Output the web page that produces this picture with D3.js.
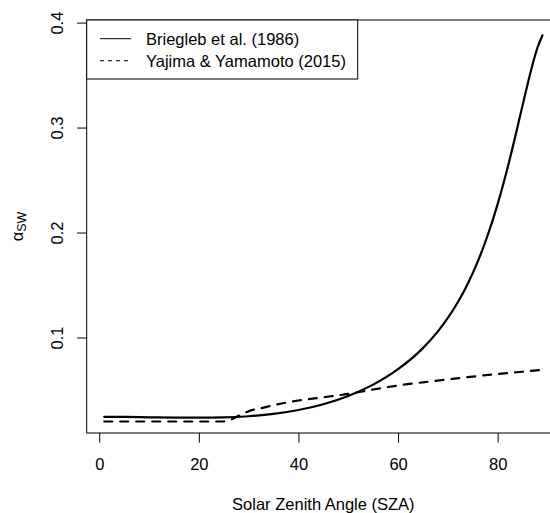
<!doctype html>
<html lang="en">
    <head>
        <meta charset="utf-8">
        <title>Albedo vs solar zenith angle</title>
        <script src="https://cdn.jsdelivr.net/npm/d3@7"></script>
        <style>
            body { margin: 0; background: #fff; }
            svg { display: block; font-family: "Liberation Sans", Arial, Helvetica, sans-serif; }
        </style>
    </head>
    <body>

        <div id="chart"></div>

        <script type="text/javascript">

            // values
            var sza = [1, 5, 10, 15, 20, 25, 30, 35, 40, 45, 50, 55, 60, 65, 68, 70, 72, 74, 76, 78, 80, 81, 82, 83, 84, 85, 86, 87, 88, 89];
            var briegleb = [0.0244, 0.0243, 0.0240, 0.0237, 0.0236, 0.0239, 0.0250, 0.0272, 0.0309, 0.0364, 0.0443, 0.0551, 0.0698, 0.0899, 0.1058, 0.1186, 0.1336, 0.1513, 0.1723, 0.1974, 0.2271, 0.2438, 0.2618, 0.2809, 0.3008, 0.3211, 0.3411, 0.3599, 0.3761, 0.3879];

            var szaYY = [1, 10, 20, 25, 26, 28, 30, 33, 36, 40, 45, 50, 55, 60, 65, 70, 75, 80, 85, 89];
            var yajima = [0.0200, 0.0200, 0.0200, 0.0200, 0.0210, 0.0255, 0.0298, 0.0332, 0.0366, 0.0400, 0.0431, 0.0463, 0.0505, 0.0543, 0.0573, 0.0601, 0.0628, 0.0652, 0.0674, 0.0693];

            var xTicks = [0, 20, 40, 60, 80];
            var yTicks = [0.1, 0.2, 0.3, 0.4];
            var legendLabels = ["Briegleb et al. (1986)", "Yajima & Yamamoto (2015)"];

            var width = 550, height = 513;
            var fontSize = "16.5px";
            // plot region (the right edge runs past the picture, like the original)
            var plotL = 86.7, plotT = 20, plotR = 560, plotB = 433;

            var svg = d3.select("#chart").append("svg")
                .attr("width", width)
                .attr("height", height)
                .style("overflow", "hidden");

            // R style 4% padding on the data range
            var xr = d3.extent(sza), yr = d3.extent(briegleb);
            var xPad = (xr[1] - xr[0]) * 0.04, yPad = (yr[1] - yr[0]) * 0.04;

            var x = d3.scaleLinear().domain([xr[0] - xPad, xr[1] + xPad]).range([plotL, plotR]);
            var y = d3.scaleLinear().domain([yr[0] - yPad, yr[1] + yPad]).range([plotB, plotT]);

            var line = d3.line()
                .x(function(d) { return x(d[0]); })
                .y(function(d) { return y(d[1]); })
                .curve(d3.curveMonotoneX);

            svg.append("path")
                .datum(d3.zip(sza, briegleb))
                .attr("d", line)
                .attr("fill", "none")
                .attr("stroke", "#000")
                .attr("stroke-width", 2.2)
                .attr("stroke-linecap", "round");

            svg.append("path")
                .datum(d3.zip(szaYY, yajima))
                .attr("d", line)
                .attr("fill", "none")
                .attr("stroke", "#000")
                .attr("stroke-width", 2.2)
                .attr("stroke-linecap", "round")
                .attr("stroke-dasharray", "8,8");

            // box
            svg.append("rect")
                .attr("x", plotL)
                .attr("y", plotT)
                .attr("width", plotR - plotL)
                .attr("height", plotB - plotT)
                .attr("fill", "none")
                .attr("stroke", "#000")
                .attr("stroke-width", 1);

            // axes
            var xAxis = svg.append("g")
                .attr("transform", "translate(0," + plotB + ")")
                .call(d3.axisBottom(x).tickValues(xTicks).tickSize(9.6).tickSizeOuter(0));
            xAxis.select(".domain").remove();
            xAxis.selectAll("line").attr("stroke", "#000");
            xAxis.selectAll("text")
                .attr("y", 37)
                .attr("dy", null)
                .attr("fill", "#000")
                .style("font-size", fontSize)
                .style("font-family", "Liberation Sans, Arial, sans-serif");

            var yAxis = svg.append("g")
                .attr("transform", "translate(" + plotL + ",0)")
                .call(d3.axisLeft(y).tickValues(yTicks).tickSize(9.6).tickSizeOuter(0).tickFormat(d3.format(".1f")));
            yAxis.select(".domain").remove();
            yAxis.selectAll("line").attr("stroke", "#000");
            yAxis.selectAll("text")
                .attr("x", null)
                .attr("dy", null)
                .attr("transform", "translate(-23.2,0) rotate(-90)")
                .attr("text-anchor", "middle")
                .attr("fill", "#000")
                .style("font-size", fontSize)
                .style("font-family", "Liberation Sans, Arial, sans-serif");

            // axis titles
            svg.append("text")
                .attr("x", (plotL + plotR) / 2)
                .attr("y", 510)
                .attr("text-anchor", "middle")
                .style("font-size", fontSize)
                .text("Solar Zenith Angle (SZA)");

            var yLab = svg.append("text")
                .attr("transform", "translate(22.5," + ((plotT + plotB) / 2) + ") rotate(-90)")
                .attr("text-anchor", "middle")
                .style("font-size", fontSize);
            yLab.append("tspan").text("\u03b1");
            yLab.append("tspan")
                .attr("dy", 3.5)
                .style("font-size", "12.5px")
                .text("SW");

            // legend
            var legend = svg.append("g");
            legend.append("rect")
                .attr("x", plotL)
                .attr("y", plotT)
                .attr("width", 271)
                .attr("height", 59)
                .attr("fill", "#fff")
                .attr("stroke", "#000")
                .attr("stroke-width", 1);

            var rows = legend.selectAll("g.row")
                .data(legendLabels)
                .enter().append("g")
                .attr("class", "row")
                .attr("transform", function(d, i) { return "translate(0," + (plotT + 18.7 + i * 22) + ")"; });

            rows.append("line")
                .attr("x1", 100)
                .attr("x2", 131)
                .attr("stroke", "#000")
                .attr("stroke-width", 1)
                .attr("stroke-dasharray", function(d, i) { return i == 1 ? "4,4" : null; });

            rows.append("text")
                .attr("x", 146)
                .attr("y", 6)
                .style("font-size", fontSize)
                .text(function(d) { return d; });

        </script>

    </body>
</html>
